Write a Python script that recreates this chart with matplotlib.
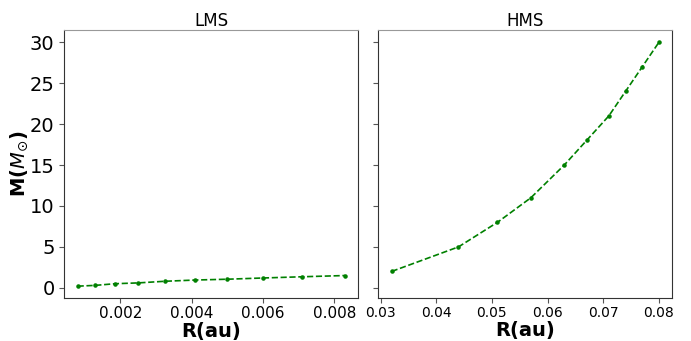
import matplotlib
matplotlib.use("Agg")
import matplotlib.pyplot as plt

lms_r = [0.0008, 0.0013, 0.00185, 0.0025, 0.00325, 0.0041, 0.0050, 0.0060, 0.0071, 0.0083]
lms_m = [0.2, 0.3, 0.5, 0.6, 0.8, 0.95, 1.05, 1.2, 1.35, 1.5]
hms_r = [0.032, 0.044, 0.051, 0.057, 0.063, 0.067, 0.071, 0.074, 0.077, 0.080]
hms_m = [2, 5, 8, 11, 15, 18, 21, 24, 27, 30]

fig, (ax1, ax2) = plt.subplots(1, 2, figsize=(6.91, 3.41), dpi=100, sharey=True)
fig.subplots_adjust(left=0.093, right=0.973, top=0.912, bottom=0.125, wspace=0.068)

for ax, r, m, title in [(ax1, lms_r, lms_m, "LMS"), (ax2, hms_r, hms_m, "HMS")]:
    ax.plot(r, m, linestyle="--", marker=".", color="g", markersize=4.5, linewidth=1.2)
    ax.set_title(title, fontsize=12, pad=3)
    ax.set_xlabel("R(au)", fontsize=14, fontweight="bold", labelpad=1)
    ax.tick_params(axis="x", labelsize=10, color="#555555", pad=2)
    ax.tick_params(axis="y", labelsize=14, color="#555555")
    for s in ax.spines.values():
        s.set_color("#333333")
    ax.spines["top"].set_color("#999999")

ax1.set_ylabel(r"M($M_{\odot}$)", fontsize=14, fontweight="bold", labelpad=0)
ax1.set_xticks([0.002, 0.004, 0.006, 0.008])
ax1.tick_params(axis="x", labelsize=11)
ax2.set_xticks([0.03, 0.04, 0.05, 0.06, 0.07, 0.08])
ax1.set_yticks([0, 5, 10, 15, 20, 25, 30])

fig.savefig("out.png", dpi=100)
